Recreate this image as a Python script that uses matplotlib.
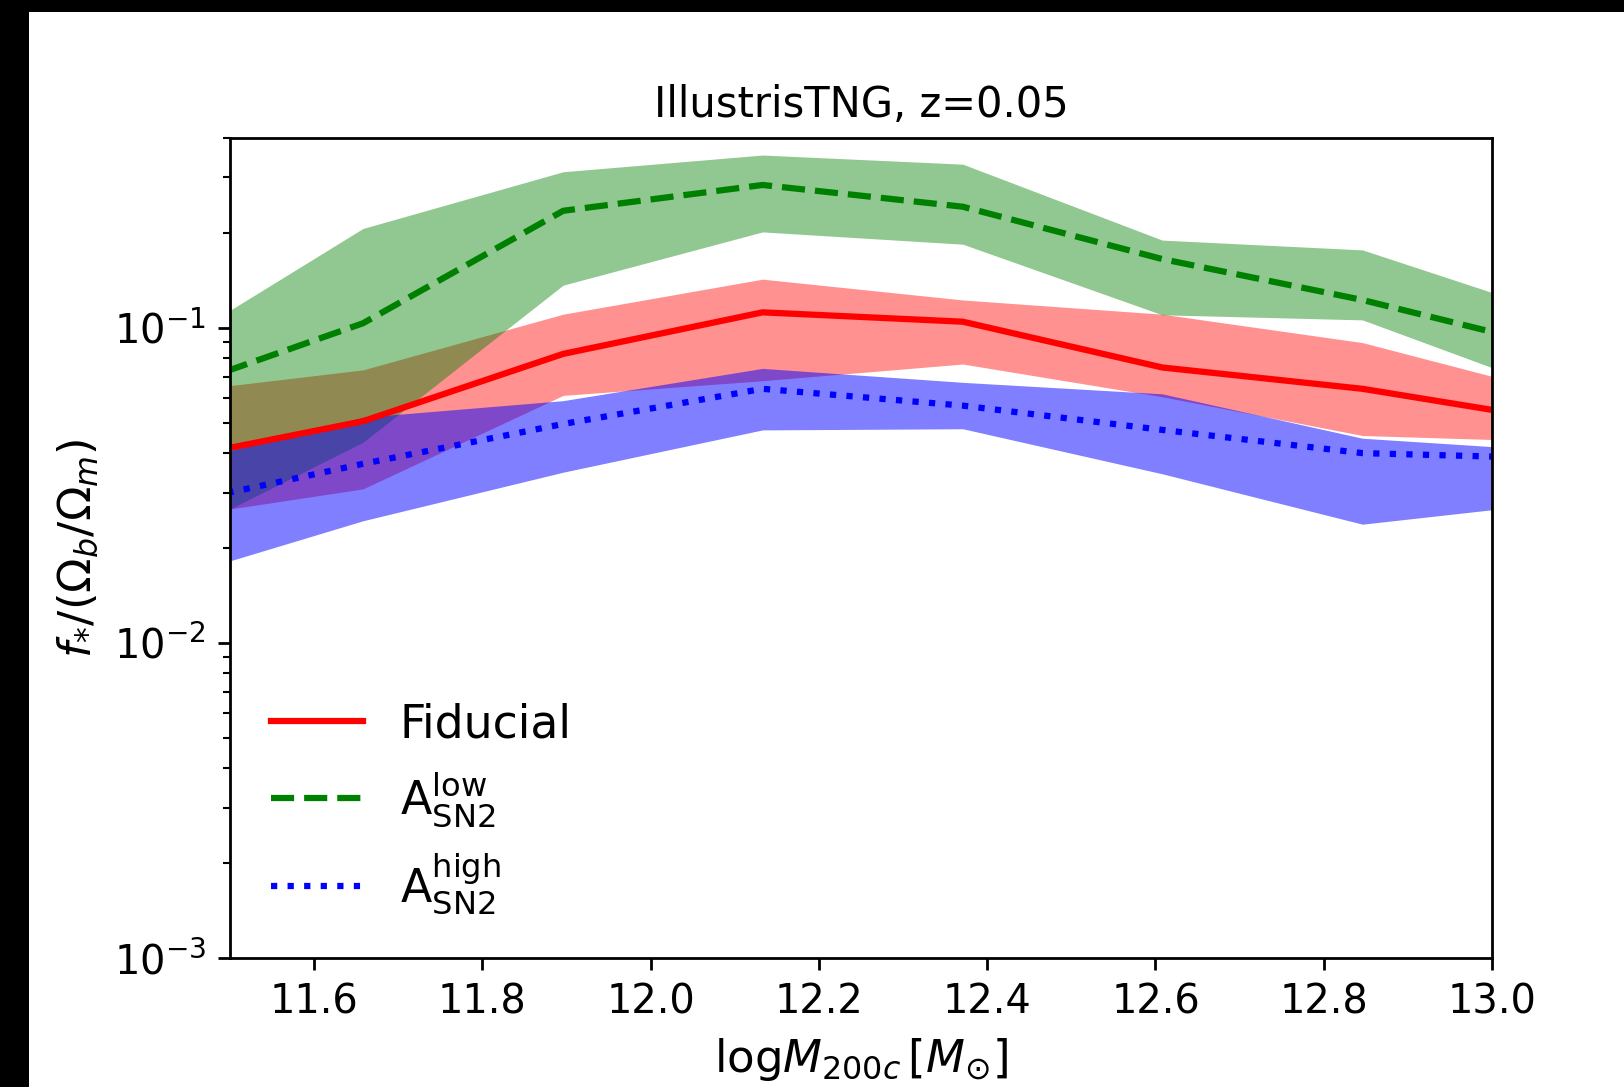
import numpy as np
import matplotlib
matplotlib.use("Agg")
import matplotlib.pyplot as plt
from matplotlib.patches import Rectangle

# halo mass bins (log M200c)
logM = [11.420, 11.658, 11.896, 12.133, 12.371, 12.608, 12.846, 13.083]

# Fiducial
fid_med = [0.0377, 0.0505, 0.0826, 0.1119, 0.1045, 0.0748, 0.0640, 0.0505]
fid_lo  = [0.0247, 0.0308, 0.0610, 0.0679, 0.0767, 0.0604, 0.0455, 0.0435]
fid_hi  = [0.0618, 0.0735, 0.1104, 0.1426, 0.1225, 0.1104, 0.0897, 0.0614]

# A_SN2 low
low_med = [0.0618, 0.1033, 0.2350, 0.2838, 0.2421, 0.1652, 0.1225, 0.0855]
low_lo  = [0.0208, 0.0433, 0.1365, 0.2014, 0.1841, 0.1099, 0.1059, 0.0619]
low_hi  = [0.0839, 0.2065, 0.3126, 0.3532, 0.3304, 0.1897, 0.1766, 0.1094]

# A_SN2 high
high_med = [0.0270, 0.0370, 0.0495, 0.0640, 0.0566, 0.0474, 0.0400, 0.0385]
high_lo  = [0.0157, 0.0244, 0.0348, 0.0474, 0.0478, 0.0344, 0.0238, 0.0280]
high_hi  = [0.0360, 0.0520, 0.0587, 0.0743, 0.0671, 0.0617, 0.0446, 0.0406]

xticks = [11.6, 11.8, 12.0, 12.2, 12.4, 12.6, 12.8, 13.0]

fig = plt.figure(figsize=(6.496, 4.348), dpi=250)
fig.patch.set_facecolor("white")
ax = fig.add_axes([230/1624, 1-958/1087, 1262/1624, 820/1087])

ax.fill_between(logM, fid_lo, fid_hi, color="red", alpha=0.43, lw=0)
ax.fill_between(logM, low_lo, low_hi, color="green", alpha=0.43, lw=0)
ax.fill_between(logM, high_lo, high_hi, color="blue", alpha=0.5, lw=0)

ax.plot(logM, fid_med, color="red", ls="-", lw=1.8, label="Fiducial")
ax.plot(logM, low_med, color="green", ls="--", lw=1.8,
        label=r"A$_{\rm SN2}^{\rm low}$")
ax.plot(logM, high_med, color="blue", ls=":", lw=1.8,
        label=r"A$_{\rm SN2}^{\rm high}$")

ax.set_yscale("log")
ax.set_xlim(11.5, 13.0)
ax.set_ylim(1e-3, 0.4)
ax.set_xticks(xticks)
ax.set_xticklabels([f"{t:.1f}" for t in xticks])
ax.tick_params(labelsize=11.5)

ax.set_title("IllustrisTNG, z=0.05", fontsize=12)
ax.set_xlabel(r"$\mathrm{log}M_{200c}\,[M_{\odot}]$", fontsize=13)
ax.set_ylabel(r"$f_{*}/(\Omega_b/\Omega_m)$", fontsize=13)

ax.legend(loc="lower left", frameon=False, fontsize=13.2)

# black strips at top and left edges as in the reference
fig.patches.append(Rectangle((0, 1-12/1087), 1, 12/1087, transform=fig.transFigure,
                             facecolor="black", edgecolor="none", zorder=10))
fig.patches.append(Rectangle((0, 0), 29/1624, 1, transform=fig.transFigure,
                             facecolor="black", edgecolor="none", zorder=10))

fig.savefig("out.png", dpi=250, facecolor="white")
